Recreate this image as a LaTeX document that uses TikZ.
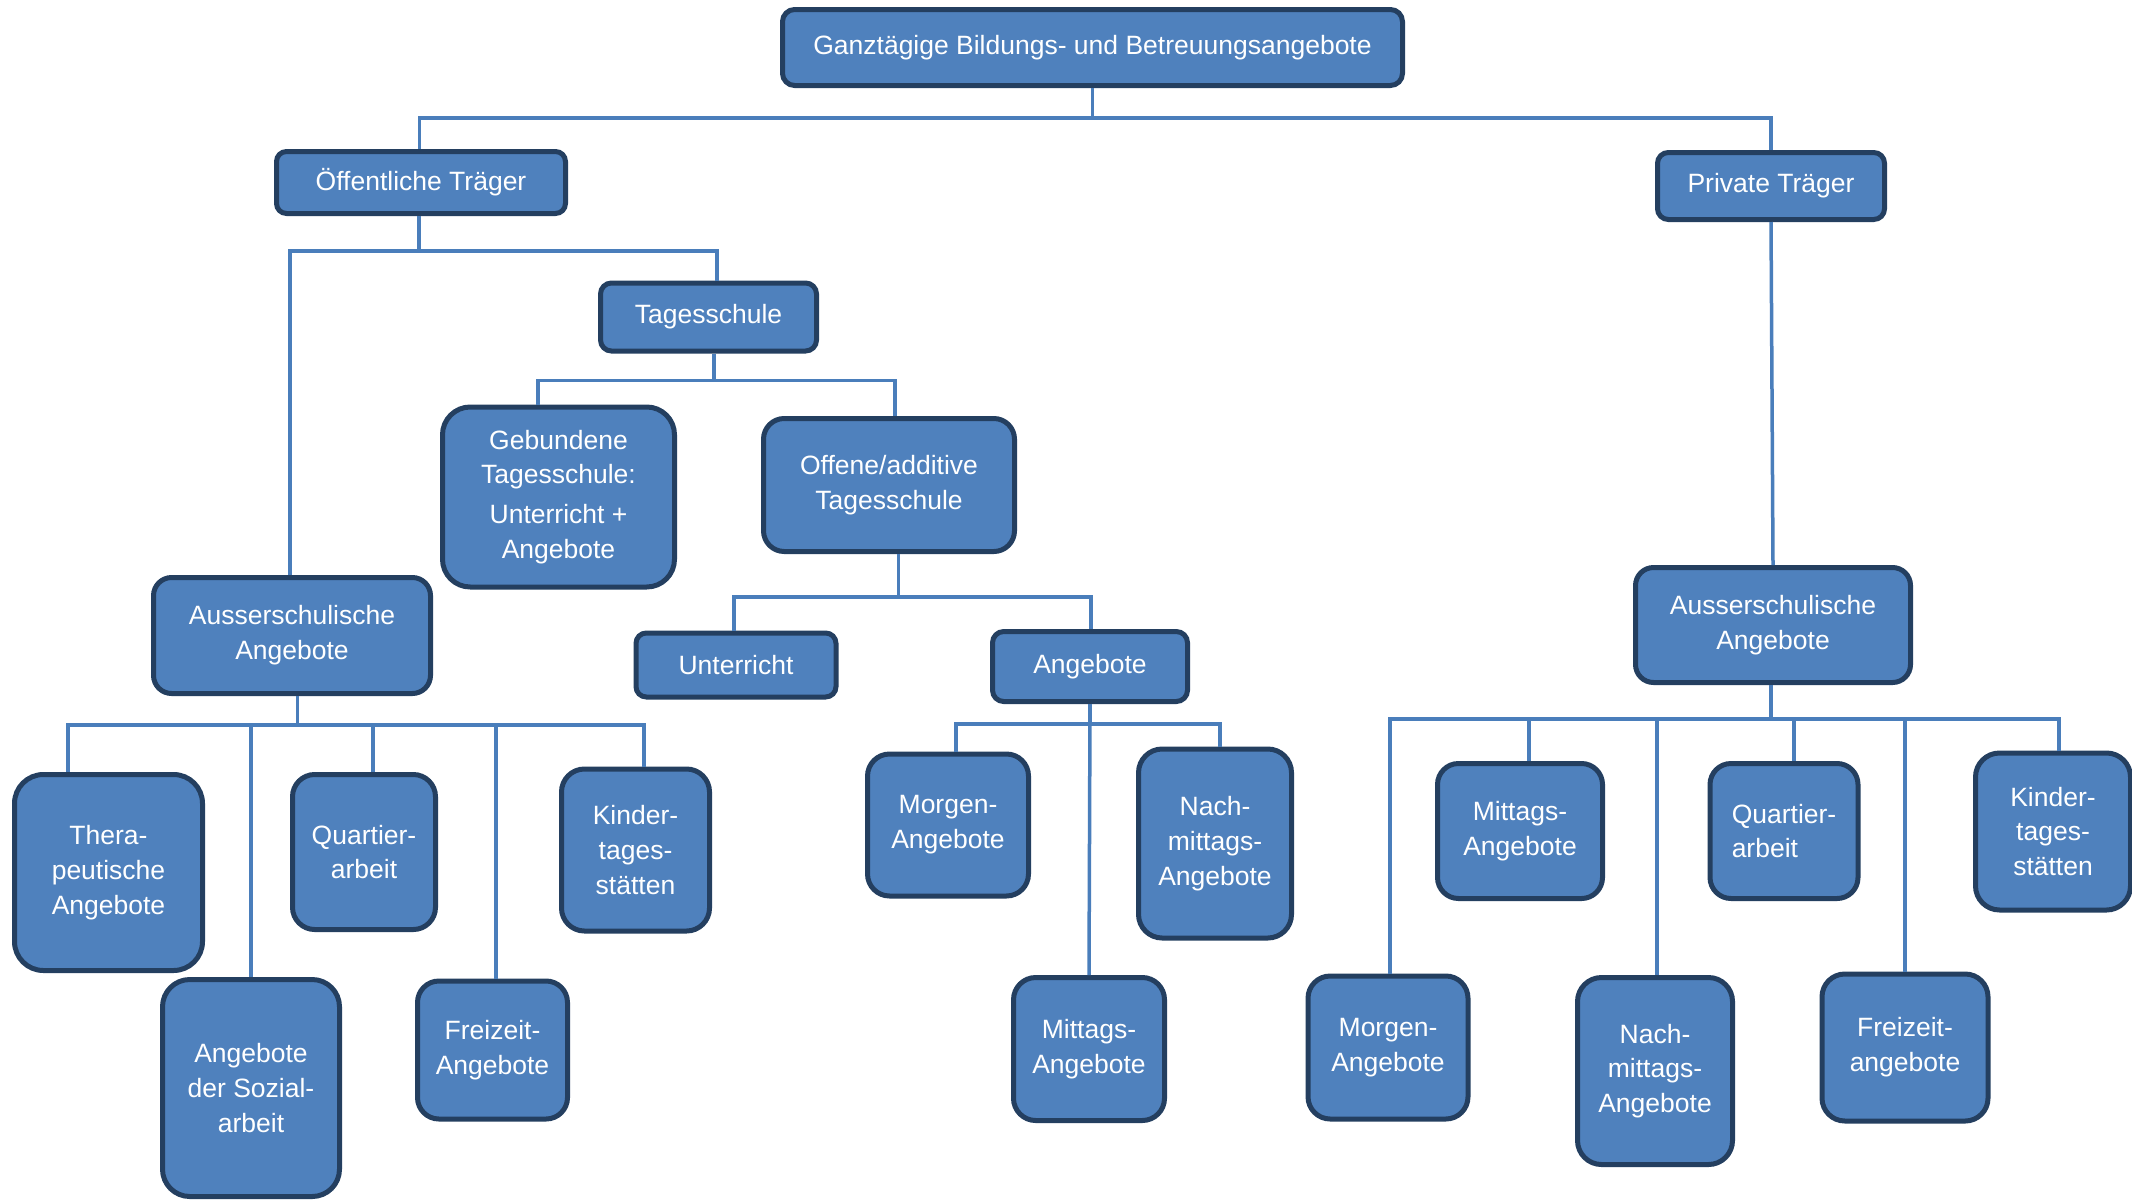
\documentclass[tikz,border=0pt]{standalone}
\usepackage{fontspec}
\setmainfont{Liberation Sans}
\definecolor{boxfill}{HTML}{4F81BD}
\definecolor{boxline}{HTML}{243F60}
\definecolor{linkcol}{HTML}{4A7EBB}
\tikzset{
  box/.style={draw=boxline, fill=boxfill, line width=5pt, text=white,
    align=center, inner sep=0pt, font=\fontsize{26.5}{34.8}\selectfont},
  conn/.style={draw=linkcol, line width=3.5pt},
}
% \mkbox[options]{name}{cx}{cy}{outer width}{outer height}{text}
\newcommand\mkbox[7][]{%
  \pgfmathsetmacro\mkboxr{0.15*min(#5,#6)}%
  \pgfmathsetmacro\mkboxw{#5-5}%
  \pgfmathsetmacro\mkboxh{#6-5}%
  \node[box, minimum width=\mkboxw pt, minimum height=\mkboxh pt,
        rounded corners=\mkboxr pt, #1] (#2) at (#3,#4) {#7};%
}
\begin{document}
\begin{tikzpicture}[x=1pt,y=-1pt]
\fill[white] (0,0) rectangle (2132,1202);
\useasboundingbox (0,0) rectangle (2132,1202);

% top levels
\mkbox{root}{1092.5}{47.5}{625}{81}{Ganztägige Bildungs- und Betreuungsangebote}
\mkbox{oeff}{421}{182.5}{294}{67}{Öffentliche Träger}
\mkbox{priv}{1771}{186}{232}{72}{Private Träger}
\mkbox{tages}{708.5}{317}{221}{73}{Tagesschule}
\mkbox{gebund}{558.5}{497}{237}{185}{Gebundene\\Tagesschule:\\[5pt]Unterricht +\\Angebote}
\mkbox{offene}{889}{485}{256}{138}{Offene/additive\\Tagesschule}
\mkbox{aussL}{292}{635.5}{282}{121}{Ausserschulische\\Angebote}
\mkbox{unterricht}{736}{665}{205}{69}{Unterricht}
\mkbox{angebote}{1090}{666.5}{200}{75}{Angebote}
\mkbox{aussR}{1773}{625}{280}{120}{Ausserschulische\\Angebote}

% public out-of-school offers
\mkbox{thera}{108.5}{872.5}{193}{201}{Thera-\\peutische\\Angebote}
\mkbox{sozial}{251}{1088}{182}{222}{Angebote\\der Sozial-\\arbeit}
\mkbox{quartL}{364}{852}{148}{160}{Quartier-\\arbeit}
\mkbox{freizL}{492.5}{1050}{155}{143}{Freizeit-\\Angebote}
\mkbox{kindL}{635.5}{850}{153}{167}{Kinder-\\tages-\\stätten}

% open day school offers
\mkbox{morgenM}{948}{825}{166}{147}{Morgen-\\Angebote}
\mkbox{nachM}{1215}{843.5}{158}{194}{Nach-\\mittags-\\Angebote}
\mkbox{mittagM}{1089}{1049}{156}{148}{Mittags-\\Angebote}

% private out-of-school offers
\mkbox{morgenR}{1388}{1047.5}{165}{148}{Morgen-\\Angebote}
\mkbox{mittagR}{1520}{831}{170}{140}{Mittags-\\Angebote}
\mkbox{nachR}{1655}{1071}{160}{192}{Nach-\\mittags-\\Angebote}
\mkbox[align=left]{quartR}{1784}{831}{153}{140}{Quartier-\\arbeit}
\mkbox{freizR}{1905}{1047.5}{171}{152}{Freizeit-\\angebote}
\mkbox{kindR}{2053}{831.5}{160}{162}{Kinder-\\tages-\\stätten}

% connectors
\draw[conn] (root.south) -- ++(0,30) -| ([xshift=-1.5pt]oeff.north);
\draw[conn] (root.south) -- ++(0,30) -| (priv.north);

\draw[conn] ([xshift=-2pt]oeff.south) -- ++(0,35) -| ([xshift=-2pt]aussL.north);
\draw[conn] ([xshift=-2pt]oeff.south) -- ++(0,35) -| ([xshift=8.5pt]tages.north);

\draw[conn] ([xshift=5.5pt]tages.south) -- ++(0,27) -| ([xshift=-20.5pt]gebund.north);
\draw[conn] ([xshift=5.5pt]tages.south) -- ++(0,27) -| ([xshift=6pt]offene.north);

\draw[conn] ([xshift=9.5pt]offene.south) -- ++(0,43) -| ([xshift=-2pt]unterricht.north);
\draw[conn] ([xshift=9.5pt]offene.south) -- ++(0,43) -| ([xshift=1pt]angebote.north);

\draw[conn] (angebote.south) -- ++(0,20) -| ([xshift=8pt]morgenM.north);
\draw[conn] (angebote.south) -- ++(0,20) -| ([xshift=5pt]nachM.north);
\draw[conn] (angebote.south) -- (mittagM.north);

\draw[conn] (priv.south) -- (aussR.north);

\draw[conn] ([xshift=-2pt]aussR.south) -- ++(0,34) -| ([xshift=2pt]morgenR.north);
\draw[conn] ([xshift=-2pt]aussR.south) -- ++(0,34) -| ([xshift=9pt]mittagR.north);
\draw[conn] ([xshift=-2pt]aussR.south) -- ++(0,34) -| ([xshift=2pt]nachR.north);
\draw[conn] ([xshift=-2pt]aussR.south) -- ++(0,34) -| ([xshift=10pt]quartR.north);
\draw[conn] ([xshift=-2pt]aussR.south) -- ++(0,34) -| (freizR.north);
\draw[conn] ([xshift=-2pt]aussR.south) -- ++(0,34) -| ([xshift=6pt]kindR.north);

\draw[conn] ([xshift=5.5pt]aussL.south) -- ++(0,29) -| ([xshift=-40.5pt]thera.north);
\draw[conn] ([xshift=5.5pt]aussL.south) -- ++(0,29) -| (sozial.north);
\draw[conn] ([xshift=5.5pt]aussL.south) -- ++(0,29) -| ([xshift=9pt]quartL.north);
\draw[conn] ([xshift=5.5pt]aussL.south) -- ++(0,29) -| ([xshift=3.5pt]freizL.north);
\draw[conn] ([xshift=5.5pt]aussL.south) -- ++(0,29) -| ([xshift=8.5pt]kindL.north);
\end{tikzpicture}
\end{document}
